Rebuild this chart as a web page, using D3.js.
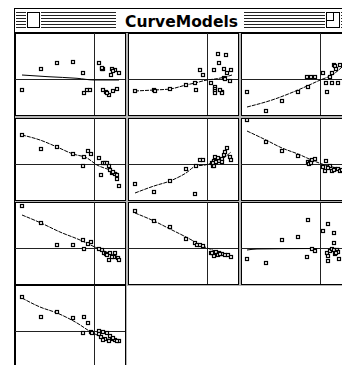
<!DOCTYPE html>
<html lang="en">
<head>
  <meta charset="UTF-8" />
  <title>CurveModels</title>
  <style>
    body { margin: 0; background: white; }
    svg { display: block; }
    .box { fill: white; stroke: black; stroke-width: 1; }
    .rule { stroke: #222; stroke-width: 1; shape-rendering: crispEdges; }
    .pt { fill: white; stroke: #000; stroke-width: 1.2; }
    .fit { fill: none; stroke: #000; stroke-width: 1; }
  </style>
  <script src="https://d3js.org/d3.v7.min.js"></script>
</head>
<body>
  <script>
    // residual-style panels: x and y measured from the divider lines
    const pts1 = [[-53,10],[-37,16],[-21,17],[-11,6],[-72,-11],[-10,-14],[-7,-11],[-4,-11],
      [5,16],[8,10],[9,10],[8.5,11],[18,10],[21,9],[25,6],[17,4],[19,8],
      [9,-11],[12,-13],[15,-16],[13,-14],[19,-12],[23,-10]];
    const fit1 = [[-72,4],[-46,2.3],[-17,0.7],[0,-1],[25,-1]];

    const pts2 = [[-72,-12],[-53,-11],[-52,-11.5],[-37,-10],[-21,-6],[-12,-4],[-11,-11],[-7,9],[-4,4],
      [11,25],[19,24],[12,16],[7,9],[17,10],[24,9],[20,6],[17,1],[18,0.5],[23,-2],[4,-4],
      [8,-8],[8,-10],[8,-12],[8,-14],[15,-13],[15,-14],[13,-11]];
    const fit2 = [[-72,-12],[-53,-11],[-37,-10],[-21,-6],[-12,-4],[0,-1],[8,0],[18,2],[25,4]];

    const pts3 = [[-73,-13],[-54,-32],[-38,-22],[-22,-13],[-12,-8],[-13,2],[-9,2],[-5,2],
      [3,6],[10,2],[14,14],[20,14],[14.5,13],[16,10],[6,-4],[12,-4],[18,-4],[7,-13],[12,6]];
    const fit3 = [[-73,-28],[-48,-21],[-22,-11],[-2,-2],[15,6],[22,12]];

    const pts4 = [[-72,29],[-53,15],[-37,17],[-21,10],[-6,13],[-3,10],[-10,7],[-11,-2],
      [5,6],[9,1],[11,1],[13,1],[15,-2],[16,-6],[18,-9],[21,-10],[19,-8],[7,-11],[23,-15],[25,-22],[23,-11]];
    const fit4 = [[-72,29],[-54,24],[-37,17],[-21,10],[-7,6],[3,-1],[16,-6],[25,-10]];

    const pts5 = [[-72,-20],[-53,-28],[-37,-17],[-21,-5],[-12,-30],[-11,-2],[-7,4],[-4,4],
      [5,1],[7,3],[6,-2],[8,7],[7,-2],[12,3],[15,5],[17,9],[18,12],[20,16],[23,7],[24,4],
      [15,2],[11,6],[6,1],[9,2]];
    const fit5 = [[-72,-29],[-53,-22],[-37,-17],[-21,-9],[-11,-2],[-2,-1],[5,1],[18,7],[24,12]];

    const pts6 = [[-73,44],[-54,22],[-38,13],[-22,8],[-12,2],[-10,2],[-8,4],[-5,5],[-11,0],[-9,1],
      [6,3],[3,-3],[10,-2],[5,-7],[12,-7],[15,-5],[18,-5],[20,-7],[8,-4],[14,-6],[22,-6]];
    const fit6 = [[-73,33],[-54,24],[-38,16],[-22,10],[-6,3],[5,-1],[22,-5]];

    const pts7 = [[-72,42],[-53,25],[-37,3],[-21,3],[-11,8],[-6,4],[-3,6],[-10,-1],
      [8,-2],[10,-5],[12,-6],[16,-5],[21,-5],[15,-12],[20,-9],[24,-10],[25,-12],[13,-7],[18,-9],[5,-1]];
    const fit7 = [[-72,33],[-53,25],[-34,16],[-14,8],[3,0],[25,-9]];

    const pts8 = [[-72,37],[-53,27],[-37,21],[-21,9],[-12,5],[-10,3],[-7,3],[-4,2],
      [4,-5],[7,-6],[9,-4],[12,-5],[15,-6],[18,-7],[21,-7],[24,-9],[7,-8],[11,-7],[5,-5],[13,-6]];
    const fit8 = [[-72,35],[-53,27],[-37,19],[-21,11],[-2,1],[8,-3],[25,-9]];

    const pts9 = [[-73,-11],[-54,-15],[-38,8],[-22,11],[-12,28],[-13,-9],[-8,-1],[-5,-3],
      [8,24],[3,17],[14,15],[14,5],[7,-5],[10,-3],[12,-1],[14,-2],[17,-2],[15,-6],[18,-4],
      [19,-11],[8,-8],[8,-13],[16,-5]];
    const fit9 = [[-73,-2],[-63,-1],[-3,-0.5]];

    const pts10 = [[-72,34],[-53,14],[-37,19],[-21,13],[-10,14],[-6,8],[-11,-2],
      [-3,-1],[-2,-1.5],[5,0],[9,-1],[13,-2],[7,-6],[16,-5],[11,-8],[18,-8],[21,-9],[25,-10],
      [9,-9],[15,-10],[5,-3],[19,-7],[23,-10]];
    const fit10 = [[-72,33],[-54,24],[-37,18],[-17,8],[-3,-1],[25,-11]];

    const panelPoints = [pts1, pts2, pts3, pts4, pts5, pts6, pts7, pts8, pts9, pts10];
    const panelFits = [fit1, fit2, fit3, fit4, fit5, fit6, fit7, fit8, fit9, fit10];
    const solidFits = [0, 8];

    const xDomain = [-79, 31];
    const yDomain = [-36, 46];
    const title = "CurveModels";

    const width = 342, height = 365;
    const pw = 110, ph = 82;
    const colX = [15, 128, 241];
    const rowY = [33, 118, 202, 285];

    const svg = d3.select("body").append("svg")
      .attr("width", width)
      .attr("height", height);

    // gray gutters between panels
    panelPoints.forEach((d, i) => {
      const x0 = colX[i % 3], y0 = rowY[Math.floor(i / 3)];
      svg.append("rect")
        .attr("x", x0 - 1).attr("y", y0 - 1)
        .attr("width", pw + 3).attr("height", ph + 3)
        .attr("fill", "#b4b4b4");
    });

    panelPoints.forEach((pts, i) => {
      const x0 = colX[i % 3], y0 = rowY[Math.floor(i / 3)];
      const x = d3.scaleLinear().domain(xDomain).range([x0, x0 + pw]);
      const y = d3.scaleLinear().domain(yDomain).range([y0 + ph, y0]);

      const g = svg.append("g");
      g.append("clipPath").attr("id", "clip" + i)
        .append("rect").attr("x", x0).attr("y", y0).attr("width", pw + 1).attr("height", ph + 1);

      g.append("rect").attr("class", "box")
        .attr("x", x0 + 0.5).attr("y", y0 + 0.5)
        .attr("width", pw).attr("height", ph);

      const inner = g.append("g").attr("clip-path", `url(#clip${i})`);
      inner.append("line").attr("class", "rule")
        .attr("x1", Math.round(x(0)) + 0.5).attr("x2", Math.round(x(0)) + 0.5)
        .attr("y1", y0).attr("y2", y0 + ph);
      inner.append("line").attr("class", "rule")
        .attr("x1", x0).attr("x2", x0 + pw)
        .attr("y1", Math.round(y(0)) + 0.5).attr("y2", Math.round(y(0)) + 0.5);

      const line = d3.line().x(d => x(d[0])).y(d => y(d[1])).curve(d3.curveMonotoneX);
      inner.append("path").attr("class", "fit")
        .attr("d", line(panelFits[i]))
        .attr("stroke-width", solidFits.includes(i) ? 1.6 : 1)
        .attr("stroke-dasharray", solidFits.includes(i) ? null : "4,1");

      inner.selectAll("rect.pt").data(pts).enter().append("rect")
        .attr("class", "pt")
        .attr("x", d => Math.round(x(d[0])) - 1.5)
        .attr("y", d => Math.round(y(d[1])) - 1.5)
        .attr("width", 3).attr("height", 3);
    });

    // window frame and title bar
    const win = svg.append("g");
    win.append("rect").attr("x", 14).attr("y", 8).attr("width", width - 14).attr("height", 25).attr("fill", "white");
    win.append("line").attr("x1", 14.5).attr("x2", 14.5).attr("y1", 8).attr("y2", height).attr("stroke", "black");
    win.append("line").attr("x1", 14).attr("x2", width).attr("y1", 8.5).attr("y2", 8.5).attr("stroke", "black");
    win.append("line").attr("x1", 14).attr("x2", width).attr("y1", 32.5).attr("y2", 32.5).attr("stroke", "black");

    const stripeRuns = [[16, 26], [41, 116], [244, 325], [341, width]];
    d3.range(6).forEach(k => {
      stripeRuns.forEach(r => {
        win.append("line")
          .attr("x1", r[0]).attr("x2", r[1])
          .attr("y1", 12.5 + k * 3).attr("y2", 12.5 + k * 3)
          .attr("stroke", "#222");
      });
    });

    win.append("rect").attr("x", 27.5).attr("y", 12.5).attr("width", 12).attr("height", 15)
      .attr("fill", "white").attr("stroke", "black");
    win.append("rect").attr("x", 326.5).attr("y", 12.5).attr("width", 13).attr("height", 15)
      .attr("fill", "white").attr("stroke", "black");
    win.append("rect").attr("x", 326.5).attr("y", 12.5).attr("width", 7).attr("height", 8)
      .attr("fill", "none").attr("stroke", "black");

    win.append("text")
      .attr("x", 125).attr("y", 26.5)
      .attr("textLength", 113)
      .attr("lengthAdjust", "spacingAndGlyphs")
      .attr("font-family", "'DejaVu Sans', sans-serif")
      .attr("font-weight", "bold")
      .attr("font-size", 15)
      .attr("fill", "black")
      .text(title);
  </script>
</body>
</html>
